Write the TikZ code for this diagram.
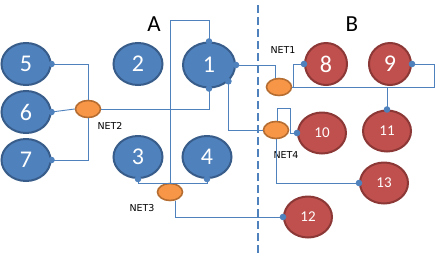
\documentclass[tikz,border=0pt]{standalone}
\usepackage{fontspec}
\setmainfont{Carlito}
\newfontfamily\labfont{DejaVu Sans}
\usetikzlibrary{shapes.geometric}
\definecolor{bfill}{HTML}{4F81BD}
\definecolor{bdraw}{HTML}{385D8A}
\definecolor{rfill}{HTML}{C0504D}
\definecolor{rdraw}{HTML}{8C3836}
\definecolor{ofill}{HTML}{F79646}
\definecolor{odraw}{HTML}{B66D31}
\definecolor{wire}{HTML}{4F81BD}
\tikzset{
  bnode/.style={ellipse, fill=bfill, draw=bdraw, line width=2pt, inner sep=0pt,
    minimum width=49pt, minimum height=42pt, text=white, font=\fontsize{24}{24}\selectfont},
  rnode/.style={ellipse, fill=rfill, draw=rdraw, line width=2pt, inner sep=0pt,
    minimum width=48pt, minimum height=41pt, text=white, font=\fontsize{15}{15}\selectfont},
  netnode/.style={ellipse, fill=ofill, draw=odraw, line width=1.6pt, inner sep=0pt,
    minimum width=25pt, minimum height=17pt},
  netlabel/.style={font=\labfont\fontsize{9.5}{9.5}\selectfont, text=black, inner sep=0pt},
  grplabel/.style={font=\fontsize{23}{23}\selectfont, text=black, inner sep=0pt},
  wireline/.style={draw=wire, line width=0.9pt},
  dotmark/.style={fill=wire, draw=none},
  divider/.style={draw=wire, line width=2.6pt, dash pattern=on 8pt off 4pt}
}
\begin{document}
\begin{tikzpicture}[x=1pt,y=-1pt]
\useasboundingbox (0,0) rectangle (445,255);
% divider
\draw[divider] (258,5) -- (258,255);
% group labels
\node[grplabel] (lA) at (154,24) {A};
\node[grplabel] (lB) at (352,24) {B};
% blue nodes
\node[bnode] (n5) at (26,64) {5};
\node[bnode] (n6) at (26,112) {6};
\node[bnode] (n7) at (26,160) {7};
\node[bnode] (n2) at (138,64) {2};
\node[bnode, minimum width=52pt, minimum height=45pt] (n1) at (209,65) {1};
\node[bnode] (n3) at (138,157) {3};
\node[bnode] (n4) at (207,157) {4};
% red nodes
\node[rnode, minimum width=42pt, minimum height=42pt, font=\fontsize{24}{24}\selectfont] (n8) at (326,64) {8};
\node[rnode, minimum width=42pt, minimum height=42pt, font=\fontsize{24}{24}\selectfont] (n9) at (390,64) {9};
\node[rnode] (n10) at (322,133) {10};
\node[rnode] (n11) at (387,131) {11};
\node[rnode] (n13) at (384,183) {13};
\node[rnode] (n12) at (308,217) {12};
% net nodes
\node[netnode] (net2) at (88,109) {};
\node[netnode] (net3) at (170,192) {};
\node[netnode] (net1) at (279,87) {};
\node[netnode] (net4) at (276,130) {};
\node[netlabel] (l2) at (110,126) {NET2};
\node[netlabel] (l3) at (142,208) {NET3};
\node[netlabel] (l1) at (283,50) {NET1};
\node[netlabel] (l4) at (286,155) {NET4};
% coordinates
\coordinate (c1) at (293,87);
\coordinate (c2) at (434,87);
\coordinate (c3) at (290,108);
% NET2
\draw[wireline] (n5.east) -| (net2.north);
\draw[wireline] (n7.east) -| (net2.south);
\draw[wireline] (n6.east) -- (net2.west);
\draw[wireline] (net2.east) -| (n1.south);
% NET3
\draw[wireline] (n3.south) -- ++(0,4) -| (n4.south);
\draw[wireline] (net3.north) -- ++(0,-162) -| (n1.north);
\draw[wireline] (net3.-60) |- (n12.west);
% NET1
\draw[wireline] (n1.east) -| (net1.110);
\draw[wireline] (n8.west) -| (c1) -- (c2) |- (n9.east);
\draw[wireline] (net1.east) -- (c1);
\draw[wireline] (n11.north) -- (n11.north |- c1);
% NET4
\draw[wireline] (n1.-40) |- (net4.west);
\draw[wireline] (net4.80) |- (c3) |- (n10.west);
\draw[wireline] (net4.south) |- (n13.west);
% dots
\foreach \p in {n1.north,n1.south,n1.east,n1.-40,n5.east,n6.east,n7.east,n3.south,n4.south,n8.west,n9.east,n11.north,n10.west,n13.west,n12.west}
  \fill[dotmark] (\p) circle (3.3pt);
\end{tikzpicture}
\end{document}
